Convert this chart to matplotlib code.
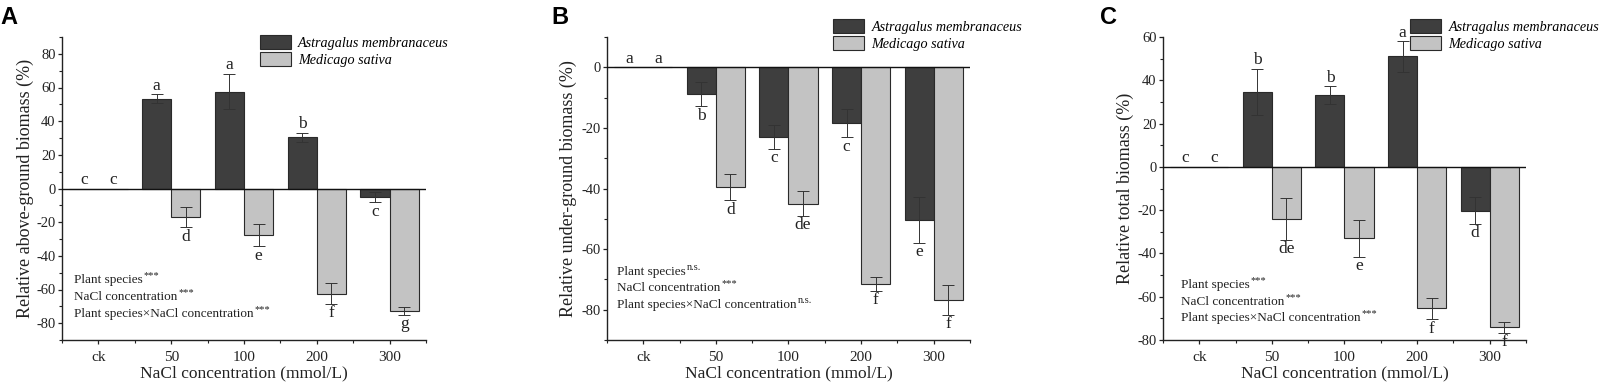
import matplotlib
matplotlib.use("Agg")
import matplotlib.pyplot as plt
from matplotlib.patches import Patch
from matplotlib.ticker import MultipleLocator
import numpy as np

plt.rcParams['font.family'] = ['Liberation Serif', 'DejaVu Serif']
plt.rcParams['axes.unicode_minus'] = False

categories = ["ck", "50", "100", "200", "300"]
species = ["Astragalus membranaceus", "Medicago sativa"]

# Panel A: relative above-ground biomass
a_astr = [0, 53.3, 57.6, 30.4, -5.0]
a_astr_err = [0, 2.7, 10.4, 2.5, 3.1]
a_medi = [0, -17.0, -27.7, -62.4, -72.9]
a_medi_err = [0, 6.0, 6.7, 6.2, 2.3]
a_astr_let = ["c", "a", "a", "b", "c"]
a_medi_let = ["c", "d", "e", "f", "g"]

# Panel B: relative under-ground biomass
b_astr = [0, -8.9, -23.0, -18.5, -50.4]
b_astr_err = [0, 4.0, 4.0, 4.6, 7.5]
b_medi = [0, -39.6, -45.0, -71.4, -76.7]
b_medi_err = [0, 4.3, 4.1, 2.3, 5.0]
b_astr_let = ["a", "b", "c", "c", "e"]
b_medi_let = ["a", "d", "de", "f", "f"]

# Panel C: relative total biomass
c_astr = [0, 34.5, 33.1, 51.0, -20.2]
c_astr_err = [0, 10.7, 4.1, 7.0, 6.2]
c_medi = [0, -24.2, -33.1, -65.4, -74.2]
c_medi_err = [0, 9.6, 8.5, 5.0, 2.6]
c_astr_let = ["c", "b", "b", "a", "d"]
c_medi_let = ["c", "de", "e", "f", "f"]

ylabels = ["Relative above-ground biomass (%)",
           "Relative under-ground biomass (%)",
           "Relative total biomass (%)"]
stats = [["***", "***", "***"],
         ["n.s.", "***", "n.s."],
         ["***", "***", "***"]]
factors = ["Plant species", "NaCl concentration", "Plant species×NaCl concentration"]

DARK = "#3e3e3e"
LIGHT = "#c3c3c3"
EDGE = "#2a2a2a"
TXT = "#222222"

W, H = 1615, 388
fig = plt.figure(figsize=(W / 100, H / 100), dpi=100)

def px_axes(l, r, t, b):
    return fig.add_axes([l / W, (H - b) / H, (r - l) / W, (b - t) / H])

panels = [
    dict(rect=(62, 426, 37, 340), ylim=(-90, 90), yticks=np.arange(-80, 81, 20),
         astr=a_astr, astr_err=a_astr_err, medi=a_medi, medi_err=a_medi_err,
         al=a_astr_let, ml=a_medi_let, letter="A", letter_x=0, leg=(0.544, 1.007),
         ann_x=0.033, ann_y=(0.198, 0.142, 0.087), ylab_x=25),
    dict(rect=(607, 970, 37, 340), ylim=(-90, 10), yticks=np.arange(-80, 1, 20),
         astr=b_astr, astr_err=b_astr_err, medi=b_medi, medi_err=b_medi_err,
         al=b_astr_let, ml=b_medi_let, letter="B", letter_x=551, leg=(0.623, 1.059),
         ann_x=0.028, ann_y=(0.224, 0.170, 0.115), ylab_x=568),
    dict(rect=(1163, 1526, 37, 340), ylim=(-80, 60), yticks=np.arange(-80, 61, 20),
         astr=c_astr, astr_err=c_astr_err, medi=c_medi, medi_err=c_medi_err,
         al=c_astr_let, ml=c_medi_let, letter="C", letter_x=1100, leg=(0.681, 1.059),
         ann_x=0.050, ann_y=(0.182, 0.126, 0.071), ylab_x=1125),
]

x = np.arange(len(categories))
bw = 0.4

for i, p in enumerate(panels):
    ax = px_axes(*p["rect"])
    for sp in ["top", "right"]:
        ax.spines[sp].set_visible(False)
    for sp in ["left", "bottom"]:
        ax.spines[sp].set_linewidth(1.0)
        ax.spines[sp].set_color(TXT)

    ax.bar(x - bw / 2, p["astr"], width=bw, color=DARK, edgecolor=EDGE, linewidth=0.8, zorder=2)
    ax.bar(x + bw / 2, p["medi"], width=bw, color=LIGHT, edgecolor=EDGE, linewidth=0.8, zorder=2)
    ax.errorbar(x - bw / 2, p["astr"], yerr=p["astr_err"], fmt="none", ecolor="#333333",
                elinewidth=0.7, capsize=4.5, capthick=0.7, zorder=3)
    ax.errorbar(x + bw / 2, p["medi"], yerr=p["medi_err"], fmt="none", ecolor="#333333",
                elinewidth=0.7, capsize=4.5, capthick=0.7, zorder=3)
    ax.axhline(0, color="#111111", linewidth=1.0, zorder=4)

    for xs, vals, errs, lets in [(x - bw / 2, p["astr"], p["astr_err"], p["al"]),
                                 (x + bw / 2, p["medi"], p["medi_err"], p["ml"])]:
        for xx, v, e, l in zip(xs, vals, errs, lets):
            if v >= 0:
                ax.annotate(l, (xx, v + e), xytext=(0, 0.5), textcoords="offset points",
                            ha="center", va="bottom", fontsize=12.5, color=TXT)
            else:
                ax.annotate(l, (xx, v - e), xytext=(0, -1.0), textcoords="offset points",
                            ha="center", va="top", fontsize=12.5, color=TXT)

    ax.set_xlim(-0.5, len(categories) - 0.5)
    ax.set_ylim(*p["ylim"])
    ax.set_xticks(x)
    ax.set_xticklabels(categories)
    ax.xaxis.set_minor_locator(MultipleLocator(0.5))
    ax.set_yticks(p["yticks"])
    ax.yaxis.set_minor_locator(MultipleLocator(10))
    ax.tick_params(axis="both", which="major", direction="out", length=3, width=0.9,
                   labelsize=10.5, colors=TXT, pad=1.5)
    ax.tick_params(axis="x", which="major", pad=5, labelsize=11)
    ax.tick_params(axis="both", which="minor", direction="out", length=2, width=0.8,
                   colors=TXT)
    ax.set_xlabel("NaCl concentration (mmol/L)", fontsize=12.5, color=TXT, labelpad=1)
    ax.set_ylabel(ylabels[i], fontsize=13, color=TXT)
    ax.yaxis.set_label_coords((p["ylab_x"] + 9 - p["rect"][0]) / (p["rect"][1] - p["rect"][0]), 0.5)

    handles = [Patch(facecolor=DARK, edgecolor=EDGE, linewidth=0.8),
               Patch(facecolor=LIGHT, edgecolor=EDGE, linewidth=0.8)]
    ax.legend(handles, species, loc="upper left", bbox_to_anchor=p["leg"],
              frameon=False, borderpad=0, borderaxespad=0, handlelength=2.2,
              handleheight=1.15, handletextpad=0.5, labelspacing=0.14,
              prop=dict(family="Liberation Serif", style="italic", size=10.2))

    for fac, sig, yy in zip(factors, stats[i], p["ann_y"]):
        t = ax.text(p["ann_x"], yy, fac, transform=ax.transAxes, fontsize=9.5,
                    ha="left", va="center", color=TXT)
        ax.annotate(sig, xy=(1.0, 0.5), xycoords=t, xytext=(0.5, 0),
                    textcoords="offset points", fontsize=7.5, ha="left", va="bottom",
                    color=TXT)

    fig.text(p["letter_x"] / W, 1 - 6 / H, p["letter"], fontsize=17, fontweight="bold",
             family="Liberation Sans", ha="left", va="top", color="black")

fig.savefig("out.png", dpi=100)
